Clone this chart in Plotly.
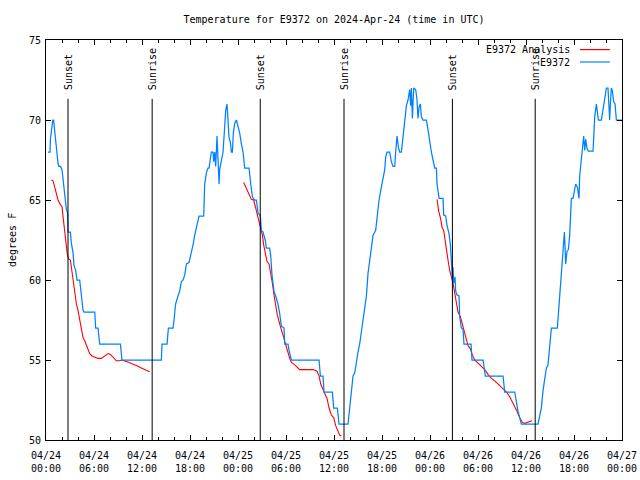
import pandas as pd
import plotly.graph_objects as go

BASE = pd.Timestamp("2024-04-24 00:00")

# Observed temperature (hours since 04/24 00:00 UTC, degrees F)
obs_hours = [
    0.25, 0.5, 0.55, 0.71, 0.85, 0.95, 1.09, 1.3, 1.5, 1.6, 1.8, 2.0, 2.13, 2.34, 2.55, 2.7, 2.75, 3.05, 3.17, 3.38,
    3.5, 3.71, 3.88, 4.21, 4.42, 4.63, 4.75, 6.09, 6.21, 6.5, 6.71, 9.3, 9.5, 14.34,
    14.42, 14.5, 15.13, 15.3, 15.88, 16.0, 16.2, 16.5, 16.71, 16.92, 17.13, 17.34, 17.55, 17.88, 18.17, 18.38,
    18.59, 18.8, 19.0, 19.13, 19.71, 19.84, 20.05, 20.25, 20.38, 20.55, 20.67, 20.88, 20.96, 21.09, 21.21, 21.38,
    21.5, 21.63, 21.71, 21.92, 22.13, 22.34, 22.46, 22.63, 22.75, 22.88, 23.05, 23.17, 23.3, 23.42, 23.59, 23.8,
    24.0, 24.21, 24.42, 24.63, 24.84, 25.38, 25.59, 25.8, 26.09, 26.3, 26.5,
    26.8, 26.92, 27.13, 27.4, 27.55, 27.96, 28.09, 28.25, 28.5, 28.71, 29.0, 29.21, 29.42, 29.75, 29.84, 30.25,
    30.38, 30.67, 34.13, 34.3, 34.63, 34.75, 35.8, 35.96, 36.42, 36.63, 37.75, 37.96, 38.17, 38.38, 38.59, 38.8,
    39.0, 39.21, 39.42, 39.63, 39.84, 40.05, 40.25, 40.46, 40.67, 40.88, 41.21, 41.38, 41.63,
    41.92, 42.13, 42.34, 42.46, 42.63, 42.96, 43.17, 43.38, 43.59, 43.71, 43.88, 44.05, 44.21, 44.42, 44.63, 44.8,
    45.05, 45.25, 45.46, 45.59, 45.67, 45.8, 45.96, 46.21, 46.38, 46.5, 46.63, 46.8, 46.92, 47.13, 47.55, 47.75,
    47.96, 48.17, 48.38, 48.59, 48.8, 48.88, 49.13, 49.63, 49.71, 49.96, 50.13, 50.38, 50.55, 50.67, 50.8, 50.88,
    50.96, 51.13, 51.21, 51.38, 51.63, 51.71, 51.92, 52.13, 52.25, 53.13, 53.25, 54.63, 54.92, 57.13, 57.34, 58.59,
    58.8, 59.0, 59.21, 59.42, 61.5,
    61.71, 61.92, 62.13, 62.34, 62.55, 62.75, 62.88, 63.05, 63.17, 63.92, 64.05, 64.21, 64.42, 64.63, 64.8, 64.88,
    64.96, 65.13, 65.3, 65.46, 65.55, 65.67, 65.88, 66.09, 66.21, 66.42, 66.5, 66.63, 66.71, 66.92, 67.05, 67.21,
    67.34, 67.46, 67.63, 67.8, 68.38, 68.46, 68.59, 68.8, 68.92, 69.05, 69.42, 69.63, 69.84, 70.05, 70.25, 70.38,
    70.46, 70.55, 70.67, 70.8, 70.96, 71.13, 71.3, 72.0,
]
obs_temps = [
    68.0, 68.0, 68.8, 69.7, 70.0, 70.0, 69.2, 68.3, 67.3, 67.1, 67.1, 66.9, 66.2, 65.3, 64.4, 64.2, 63.0, 63.0, 62.3, 61.7,
    60.9, 60.6, 60.0, 60.0, 59.0, 58.1, 58.0, 58.0, 57.0, 57.0, 56.0, 56.0, 55.0, 55.0,
    55.0, 56.0, 56.0, 57.0, 57.0, 57.5, 58.5, 59.0, 59.3, 59.9, 60.0, 60.3, 61.0, 61.1, 61.7, 62.2,
    62.8, 63.3, 63.85, 64.0, 64.0, 66.0, 66.7, 67.0, 67.0, 67.8, 68.0, 68.0, 67.4, 68.0, 67.1, 69.0,
    66.9, 66.0, 66.9, 67.4, 68.0, 69.6, 70.6, 71.0, 70.0, 68.9, 68.6, 68.0, 68.0, 69.2, 69.8, 70.0,
    69.6, 69.2, 68.5, 68.0, 67.0, 67.0, 66.0, 65.2, 65.0, 65.0, 64.2,
    64.0, 63.1, 63.0, 62.5, 62.0, 62.0, 61.5, 60.3, 59.3, 59.0, 58.5, 57.9, 57.1, 57.0, 56.0, 56.0,
    55.6, 55.0, 55.0, 54.0, 54.0, 53.0, 53.0, 52.0, 52.0, 51.0, 51.0, 52.0, 53.0, 54.0, 54.2, 55.0,
    55.5, 56.0, 56.7, 57.5, 58.3, 59.0, 60.4, 61.25, 62.1, 62.8, 63.1, 64.0, 65.0,
    65.8, 66.35, 66.9, 67.7, 68.0, 68.0, 67.4, 67.1, 67.1, 68.0, 69.0, 68.3, 68.0, 68.0, 69.0, 69.9,
    70.9, 71.25, 71.9, 70.9, 72.0, 70.1, 72.0, 71.9, 71.25, 70.1, 70.8, 71.0, 70.2, 70.0, 70.0, 69.4,
    68.6, 68.0, 67.5, 67.0, 67.0, 66.0, 65.1, 65.1, 64.06, 64.0, 63.4, 62.9, 62.2, 60.9, 60.1, 60.8,
    59.8, 60.2, 59.3, 59.06, 59.0, 57.7, 57.0, 56.9, 56.0, 56.0, 55.0, 55.0, 54.0, 54.0, 53.0, 53.0,
    52.3, 51.8, 51.4, 51.0, 51.0,
    51.5, 52.0, 53.1, 53.75, 54.5, 54.7, 55.5, 56.5, 57.0, 57.0, 57.9, 59.3, 60.5, 62.1, 63.0, 62.1,
    61.0, 61.8, 61.9, 62.8, 64.2, 65.1, 65.1, 65.8, 66.0, 65.8, 65.5, 65.1, 66.5, 67.6, 68.6, 69.0,
    68.1, 68.8, 68.2, 68.06, 68.06, 69.06, 70.2, 71.0, 70.6, 70.0, 70.0, 70.7, 71.6, 72.0, 72.0, 71.0,
    70.0, 71.0, 72.0, 71.8, 71.15, 71.0, 70.0, 70.0,
]

# Analysis series, three night-time runs
ana1_hours = [0.67, 0.88, 1.09, 1.3, 1.5, 1.8, 2.0, 2.13, 2.25, 2.38, 2.55, 2.67, 2.84, 3.05, 3.17, 3.38, 3.59, 3.8,
              4.0, 4.21, 4.42, 4.63, 4.84, 5.05, 5.25, 5.46, 5.75, 6.09, 6.5, 6.92, 7.34, 7.75, 8.05, 8.38, 8.8,
              9.21, 9.42, 10.05, 10.67, 11.3, 11.92, 12.34, 12.67, 12.96]
ana1_temps = [66.25, 66.2, 65.8, 65.3, 65.0, 64.7, 64.6, 63.96, 63.3, 62.7, 62.1, 61.6, 61.3, 61.25, 60.8, 60.0, 59.3,
              58.5, 58.1, 57.5, 57.0, 56.4, 56.2, 55.9, 55.7, 55.4, 55.25, 55.2, 55.1, 55.1, 55.25, 55.4, 55.35,
              55.2, 54.95, 54.95, 55.0, 54.9, 54.8, 54.65, 54.5, 54.4, 54.3, 54.27]
ana2_hours = [24.71, 25.05, 25.46, 25.67, 25.96, 26.21, 26.5, 26.8, 27.05, 27.21, 27.46, 27.63, 27.88, 28.09, 28.3,
              28.5, 28.71, 28.92, 29.13, 29.42, 29.63, 29.96, 30.25, 30.46, 30.67, 31.09, 31.71, 32.55, 33.38,
              33.88, 34.13, 34.34, 34.55, 34.84, 35.13, 35.38, 35.67, 35.96, 36.21, 36.5, 36.71, 36.92]
ana2_temps = [66.1, 65.7, 65.25, 65.04, 65.0, 64.5, 63.85, 63.3, 62.8, 62.2, 61.5, 61.15, 61.0, 60.5, 59.8, 59.06,
              58.3, 57.8, 57.4, 56.9, 56.5, 55.9, 55.5, 55.1, 54.85, 54.7, 54.4, 54.4, 54.4, 54.3, 54.0, 53.5,
              53.2, 52.9, 52.6, 52.0, 51.56, 51.4, 50.9, 50.5, 50.3, 50.25]
ana3_hours = [48.88, 49.09, 49.34, 49.5, 49.71, 49.84, 50.05, 50.25, 50.46, 50.67, 50.88, 51.09, 51.3, 51.5, 51.8,
              52.05, 52.34, 52.55, 52.75, 53.05, 53.3, 53.59, 54.0, 54.42, 54.84, 55.25, 55.67, 56.09, 56.5,
              56.92, 57.34, 57.63, 57.96, 58.3, 58.59, 58.88, 59.21, 59.55, 59.84, 60.25, 60.75]
ana3_temps = [65.04, 64.3, 63.8, 63.3, 63.1, 62.6, 62.0, 61.25, 60.6, 60.2, 59.8, 59.2, 58.5, 58.0, 57.7, 57.2,
              56.7, 56.25, 55.9, 55.7, 55.3, 55.0, 54.8, 54.6, 54.4, 54.1, 53.85, 53.7, 53.5, 53.3, 53.1, 52.96,
              52.7, 52.4, 52.1, 51.8, 51.4, 51.1, 51.04, 51.1, 51.2]

sunset_hours = [2.75, 26.78, 50.8]
sunrise_hours = [13.27, 37.25, 61.15]

series_names = ["E9372 Analysis", "E9372"]
series_colors = ["#ff0000", "#0080ff"]
title_text = "Temperature for E9372 on 2024-Apr-24 (time in UTC)"
y_ticks = [50, 55, 60, 65, 70, 75]


def to_time(hours):
    return [BASE + pd.Timedelta(hours=h) for h in hours]


FONT = "DejaVu Sans Mono"
W, H = 640, 480

red_x, red_y = [], []
for hs, ts in [(ana1_hours, ana1_temps), (ana2_hours, ana2_temps), (ana3_hours, ana3_temps)]:
    red_x += to_time(hs) + [None]
    red_y += ts + [None]

fig = go.Figure()
fig.add_trace(go.Scatter(x=red_x, y=red_y, mode="lines", name=series_names[0],
                         line=dict(color=series_colors[0], width=1.1), connectgaps=False, showlegend=False))
fig.add_trace(go.Scatter(x=to_time(obs_hours), y=obs_temps, mode="lines", name=series_names[1],
                         line=dict(color=series_colors[1], width=1.25), showlegend=False))

shapes = []
annotations = []
for label, hours in [("Sunset", sunset_hours), ("Sunrise", sunrise_hours)]:
    for t in to_time(hours):
        shapes.append(dict(type="line", xref="x", yref="paper", x0=t, x1=t, y0=0, y1=0.853,
                           line=dict(color="black", width=1)))
        annotations.append(dict(text=label, xref="x", yref="paper", x=t, y=0.87, xanchor="center",
                                yanchor="bottom", textangle=-90, showarrow=False,
                                font=dict(family=FONT, size=10, color="black")))

# gnuplot-style key (text right-aligned, sample line to its right)
for i, (name, col) in enumerate(zip(series_names, series_colors)):
    yy = 0.976 - i * 0.031
    annotations.append(dict(text=name, xref="paper", yref="paper", x=0.913, y=yy, xanchor="right",
                            yanchor="middle", showarrow=False, font=dict(family=FONT, size=10, color="black")))
    shapes.append(dict(type="line", xref="paper", yref="paper", x0=0.927, x1=0.979, y0=yy, y1=yy,
                       line=dict(color=col, width=1.2)))

annotations.append(dict(text="degrees F", xref="paper", yref="paper", x=0, y=0.5, xshift=-34,
                        xanchor="center", yanchor="middle", textangle=-90, showarrow=False,
                        font=dict(family=FONT, size=10, color="black")))

fig.update_layout(
    width=W, height=H,
    margin=dict(l=46, r=18, t=40, b=40),
    paper_bgcolor="white", plot_bgcolor="white",
    font=dict(family=FONT, size=10, color="black"),
    title=dict(text=title_text, x=0.5, xref="paper", y=1 - 19 / H, yref="container",
               xanchor="center", yanchor="middle", font=dict(family=FONT, size=10, color="black")),
    shapes=shapes, annotations=annotations,
    xaxis=dict(type="date", range=[BASE, BASE + pd.Timedelta(hours=72)], automargin=False,
               tick0=BASE, dtick=6 * 3600 * 1000, tickformat="%m/%d<br>%H:%M",
               ticks="inside", ticklen=5, tickcolor="black", tickwidth=1, ticklabelstandoff=6,
               ticklabeloverflow="allow",
               minor=dict(dtick=2 * 3600 * 1000, ticks="inside", ticklen=3, tickcolor="black", showgrid=False),
               showline=True, linecolor="black", linewidth=1, mirror="allticks",
               showgrid=False, zeroline=False, tickfont=dict(family=FONT, size=10, color="black")),
    yaxis=dict(range=[50, 75], tickvals=y_ticks, ticks="inside", ticklen=5, tickcolor="black",
               ticklabelstandoff=2, automargin=False,
               showline=True, linecolor="black", linewidth=1, mirror="allticks",
               showgrid=False, zeroline=False, tickfont=dict(family=FONT, size=10, color="black")),
)

# The page body has a default 8px margin; remove it so the 640x480 figure fills the window.
fig.write_html("out.html", config={"displayModeBar": False},
               post_script="document.body.style.margin='0';document.body.style.overflow='hidden';")
